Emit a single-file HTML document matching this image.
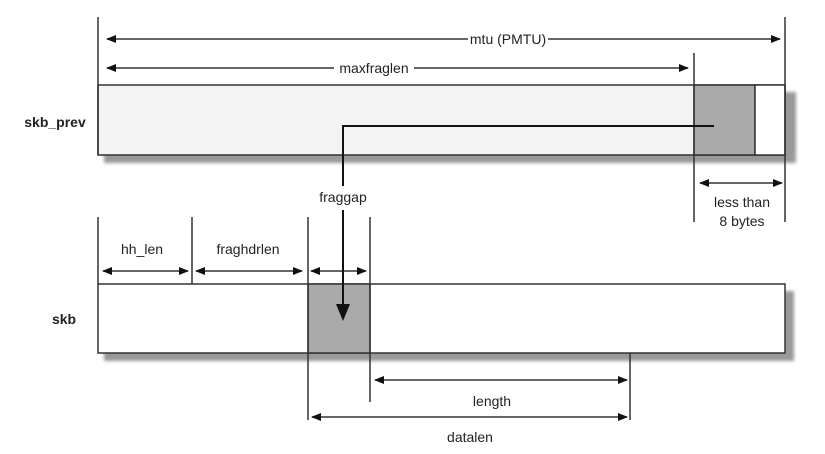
<!DOCTYPE html>
<html><head><style>html,body{margin:0;padding:0;background:#fff}</style></head>
<body>
<svg width="825" height="449" xmlns="http://www.w3.org/2000/svg" font-family="Liberation Sans, sans-serif" font-size="14" fill="#222">
<defs>
<marker id="a" markerWidth="10" markerHeight="8" refX="9" refY="4" orient="auto-start-reverse" markerUnits="userSpaceOnUse"><path d="M0,0 L10,4 L0,8 z" fill="#111"/></marker>
<filter id="bl"><feGaussianBlur stdDeviation="1.5"/></filter>
</defs>
<!-- top box shadow -->
<rect x="104" y="92" width="692" height="71" fill="#999" filter="url(#bl)"/>
<rect x="98" y="85" width="687" height="70" fill="#f3f3f3" stroke="#333" stroke-width="1.5"/>
<rect x="694" y="85" width="61" height="70" fill="#aaa" stroke="#333" stroke-width="1.5"/>
<rect x="755" y="85" width="30" height="70" fill="#fff" stroke="#333" stroke-width="1.5"/>
<!-- bottom box shadow -->
<rect x="104" y="291" width="690" height="70" fill="#999" filter="url(#bl)"/>
<rect x="98" y="284" width="687" height="69" fill="#fff" stroke="#333" stroke-width="1.5"/>
<rect x="308" y="284" width="62" height="69" fill="#aaa" stroke="#333" stroke-width="1.5"/>
<g stroke="#333" stroke-width="1.5">
<line x1="98" y1="17" x2="98" y2="155"/>
<line x1="785" y1="17" x2="785" y2="222"/>
<line x1="694" y1="53" x2="694" y2="222"/>
<line x1="98" y1="217" x2="98" y2="284"/>
<line x1="192" y1="217" x2="192" y2="284"/>
<line x1="308" y1="217" x2="308" y2="420"/>
<line x1="370" y1="217" x2="370" y2="402"/>
<line x1="630" y1="353" x2="630" y2="420"/>
</g>
<g stroke="#333" stroke-width="1.5" marker-start="url(#a)" marker-end="url(#a)">
<line x1="107" y1="39" x2="780" y2="39"/>
<line x1="107" y1="68" x2="688" y2="68"/>
<line x1="700" y1="183" x2="782" y2="183"/>
<line x1="103" y1="271" x2="188" y2="271"/>
<line x1="196" y1="271" x2="302" y2="271"/>
<line x1="311" y1="271" x2="366" y2="271"/>
<line x1="375" y1="380" x2="627" y2="380"/>
<line x1="312" y1="417" x2="627" y2="417"/>
</g>
<rect x="468" y="30" width="80" height="18" fill="#fff"/>
<rect x="334" y="59" width="80" height="18" fill="#fff"/>
<polyline points="714,126 343,126 343,186" fill="none" stroke="#111" stroke-width="2"/>
<line x1="343" y1="210" x2="343" y2="306" stroke="#111" stroke-width="2"/>
<polygon points="336,304 350,304 343,321" fill="#111"/>
<g text-anchor="middle">
<text x="508" y="44">mtu (PMTU)</text>
<text x="374" y="73">maxfraglen</text>
<text x="343" y="202">fraggap</text>
<text x="742" y="207">less than</text>
<text x="742" y="226">8 bytes</text>
<text x="142" y="254">hh_len</text>
<text x="248" y="254">fraghdrlen</text>
<text x="492" y="406">length</text>
<text x="470" y="442">datalen</text>
<text x="55" y="127" font-weight="bold">skb_prev</text>
<text x="64" y="324" font-weight="bold">skb</text>
</g>
</svg>
</body></html>
